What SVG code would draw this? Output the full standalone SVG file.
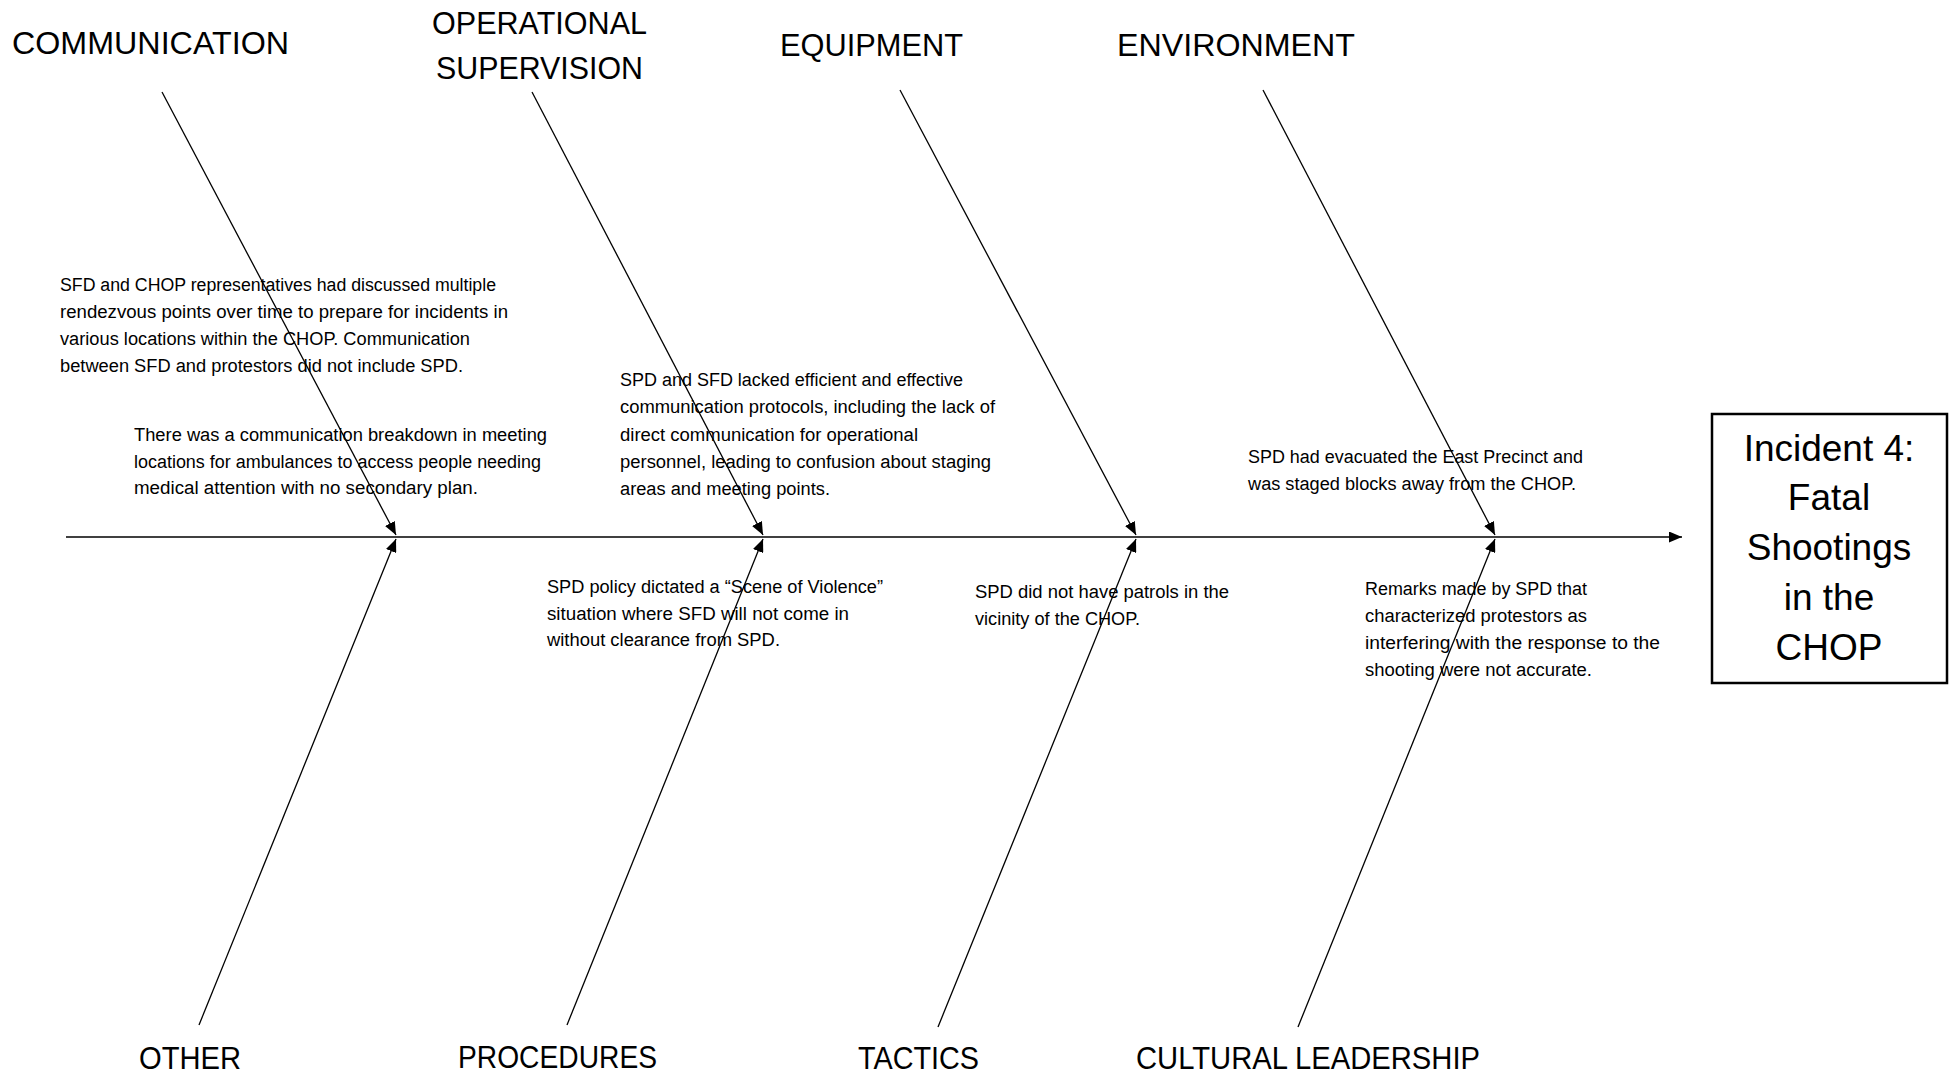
<svg xmlns="http://www.w3.org/2000/svg" width="1953" height="1076" viewBox="0 0 1953 1076">
<style>
.cat{font-family:"Liberation Sans",Arial,sans-serif;font-size:32px;fill:#000}
.desc{font-family:"Liberation Sans",Arial,sans-serif;font-size:18px;fill:#000}
.title{font-family:"Liberation Sans",Arial,sans-serif;font-size:37px;fill:#000;text-anchor:middle}
.ln{stroke:#000;stroke-width:1.3;fill:none;marker-end:url(#ah)}
</style>
<defs>
<marker id="ah" markerUnits="userSpaceOnUse" markerWidth="13" markerHeight="11" refX="13" refY="5.5" orient="auto">
<path d="M0,0 L13,5.5 L0,11 z" fill="#000"/>
</marker>
</defs>
<rect width="1953" height="1076" fill="#fff"/>
<g id="connectors">
<line class="ln" x1="66" y1="537" x2="1682" y2="537" style="stroke-width:1.6"/>
<line class="ln" x1="162" y1="92" x2="396" y2="535"/>
<line class="ln" x1="532" y1="92" x2="763" y2="535"/>
<line class="ln" x1="900" y1="90" x2="1136" y2="535"/>
<line class="ln" x1="1263" y1="90" x2="1495" y2="535"/>
<line class="ln" x1="199" y1="1025" x2="396" y2="539"/>
<line class="ln" x1="567" y1="1025" x2="763" y2="539"/>
<line class="ln" x1="938" y1="1027" x2="1136" y2="539"/>
<line class="ln" x1="1298" y1="1027" x2="1495" y2="539"/>
</g>
<g id="cat-communication"><text class="cat" x="12" y="54" textLength="277" lengthAdjust="spacingAndGlyphs">COMMUNICATION</text></g>
<g id="cat-operational-supervision"><text class="cat" x="432" y="34" textLength="215" lengthAdjust="spacingAndGlyphs">OPERATIONAL</text><text class="cat" x="436" y="79" textLength="207" lengthAdjust="spacingAndGlyphs">SUPERVISION</text></g>
<g id="cat-equipment"><text class="cat" x="780" y="56" textLength="183" lengthAdjust="spacingAndGlyphs">EQUIPMENT</text></g>
<g id="cat-environment"><text class="cat" x="1117" y="56" textLength="238" lengthAdjust="spacingAndGlyphs">ENVIRONMENT</text></g>
<g id="cat-other"><text class="cat" x="139" y="1069" textLength="102" lengthAdjust="spacingAndGlyphs">OTHER</text></g>
<g id="cat-procedures"><text class="cat" x="458" y="1068" textLength="199" lengthAdjust="spacingAndGlyphs">PROCEDURES</text></g>
<g id="cat-tactics"><text class="cat" x="858" y="1069" textLength="121" lengthAdjust="spacingAndGlyphs">TACTICS</text></g>
<g id="cat-cultural-leadership"><text class="cat" x="1136" y="1069" textLength="344" lengthAdjust="spacingAndGlyphs">CULTURAL LEADERSHIP</text></g>
<g id="note-comm-1" class="desc">
<text x="60" y="291" textLength="436" lengthAdjust="spacingAndGlyphs">SFD and CHOP representatives had discussed multiple</text>
<text x="60" y="318" textLength="448" lengthAdjust="spacingAndGlyphs">rendezvous points over time to prepare for incidents in</text>
<text x="60" y="345" textLength="410" lengthAdjust="spacingAndGlyphs">various locations within the CHOP. Communication</text>
<text x="60" y="372" textLength="403" lengthAdjust="spacingAndGlyphs">between SFD and protestors did not include SPD.</text>
</g>
<g id="note-comm-2" class="desc">
<text x="134" y="441" textLength="413" lengthAdjust="spacingAndGlyphs">There was a communication breakdown in meeting</text>
<text x="134" y="467.5" textLength="407" lengthAdjust="spacingAndGlyphs">locations for ambulances to access people needing</text>
<text x="134" y="494" textLength="344" lengthAdjust="spacingAndGlyphs">medical attention with no secondary plan.</text>
</g>
<g id="note-ops" class="desc">
<text x="620" y="386" textLength="343" lengthAdjust="spacingAndGlyphs">SPD and SFD lacked efficient and effective</text>
<text x="620" y="413" textLength="375" lengthAdjust="spacingAndGlyphs">communication protocols, including the lack of</text>
<text x="620" y="441" textLength="298" lengthAdjust="spacingAndGlyphs">direct communication for operational</text>
<text x="620" y="468" textLength="371" lengthAdjust="spacingAndGlyphs">personnel, leading to confusion about staging</text>
<text x="620" y="495" textLength="210" lengthAdjust="spacingAndGlyphs">areas and meeting points.</text>
</g>
<g id="note-procedures" class="desc">
<text x="547" y="593" textLength="336" lengthAdjust="spacingAndGlyphs">SPD policy dictated a “Scene of Violence”</text>
<text x="547" y="620" textLength="302" lengthAdjust="spacingAndGlyphs">situation where SFD will not come in</text>
<text x="547" y="646" textLength="233" lengthAdjust="spacingAndGlyphs">without clearance from SPD.</text>
</g>
<g id="note-tactics" class="desc">
<text x="975" y="598" textLength="254" lengthAdjust="spacingAndGlyphs">SPD did not have patrols in the</text>
<text x="975" y="625" textLength="165" lengthAdjust="spacingAndGlyphs">vicinity of the CHOP.</text>
</g>
<g id="note-environment" class="desc">
<text x="1248" y="463" textLength="335" lengthAdjust="spacingAndGlyphs">SPD had evacuated the East Precinct and</text>
<text x="1248" y="490" textLength="328" lengthAdjust="spacingAndGlyphs">was staged blocks away from the CHOP.</text>
</g>
<g id="note-cultural" class="desc">
<text x="1365" y="595" textLength="222" lengthAdjust="spacingAndGlyphs">Remarks made by SPD that</text>
<text x="1365" y="622" textLength="222" lengthAdjust="spacingAndGlyphs">characterized protestors as</text>
<text x="1365" y="649" textLength="295" lengthAdjust="spacingAndGlyphs">interfering with the response to the</text>
<text x="1365" y="676" textLength="227" lengthAdjust="spacingAndGlyphs">shooting were not accurate.</text>
</g>
<g id="effect-box">
<rect x="1712" y="414" width="235" height="269" fill="#fff" stroke="#000" stroke-width="2.5"/>
<text class="title" x="1829" y="461">Incident 4:</text>
<text class="title" x="1829" y="510">Fatal</text>
<text class="title" x="1829" y="560">Shootings</text>
<text class="title" x="1829" y="610">in the</text>
<text class="title" x="1829" y="660">CHOP</text>
</g>
</svg>
